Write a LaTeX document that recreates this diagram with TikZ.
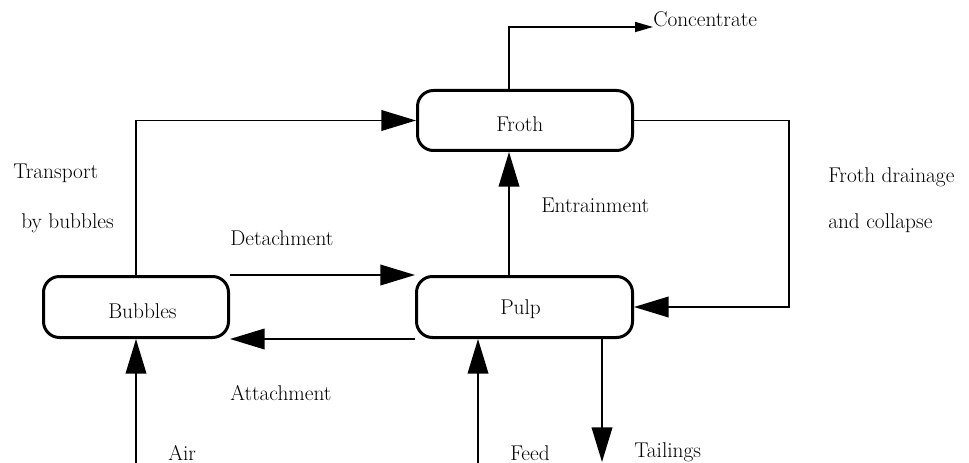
\documentclass[tikz,border=0pt]{standalone}
\usetikzlibrary{arrows.meta}
\begin{document}
\begin{tikzpicture}[x=0.75pt,y=-0.75pt,
  box/.style={draw,line width=2.25pt,rounded corners=12pt,inner sep=0pt,outer sep=1.125pt},
  lbl/.style={inner sep=0pt,anchor=base west,font=\fontsize{16}{19}\selectfont},
  conn/.style={line width=1.2pt,-{Triangle[length=26pt,width=15.5pt]}},
  small/.style={line width=1.2pt,-{Triangle[length=13.5pt,width=7.5pt]}}]
\useasboundingbox (0,0) rectangle (969,463);
% boxes
\node[box,minimum width=161.25pt,minimum height=45pt] (froth) at (525,120.5) {};
\node[box,minimum width=162pt,minimum height=45.75pt] (pulp) at (524.5,307) {};
\node[box,minimum width=138.75pt,minimum height=45.75pt] (bubbles) at (136,307) {};
% box texts
\node[lbl] (frothtxt) at (496,132) {Froth};
\node[lbl] (pulptxt) at (500,314) {Pulp};
\node[lbl] (bubtxt) at (108,318) {Bubbles};
% labels
\node[lbl] (conc) at (653,27) {Concentrate};
\node[lbl] (transport) at (13,179) {Transport};
\node[lbl] (bybub) at (21,228) {by bubbles};
\node[lbl] (detach) at (230,245) {Detachment};
\node[lbl] (entrain) at (541,213) {Entrainment};
\node[lbl] (drain1) at (828,183) {Froth drainage};
\node[lbl] (drain2) at (828,228) {and collapse};
\node[lbl] (attach) at (230,400) {Attachment};
\node[lbl] (air) at (168,460) {Air};
\node[lbl] (feed) at (510,460) {Feed};
\node[lbl] (tail) at (634,457) {Tailings};
% helper coordinates
\coordinate (entx) at (509,0);
\coordinate (drainx) at (789,0);
\coordinate (airin) at (136,463);
\coordinate (feedin) at (478,463);
\coordinate (tailout) at (602,462);
% connectors
\draw[small] (froth.north -| entx) |- (conc.base west);
\draw[conn] (bubbles.north) |- (froth.west);
\draw[conn] (pulp.north -| entx) -- (froth.south -| entx);
\draw[conn] (froth.east) -| (drainx |- froth.east) |- (pulp.east);
\draw[conn] (bubbles.north east) -- (bubbles.north east -| pulp.west);
\draw[conn] (pulp.south west) -- (pulp.south west -| bubbles.east);
\draw[conn] (airin) -- (bubbles.south);
\draw[conn] (feedin) -- (pulp.south -| feedin);
\draw[conn] (pulp.south -| tailout) -- (tailout);
\end{tikzpicture}
\end{document}
